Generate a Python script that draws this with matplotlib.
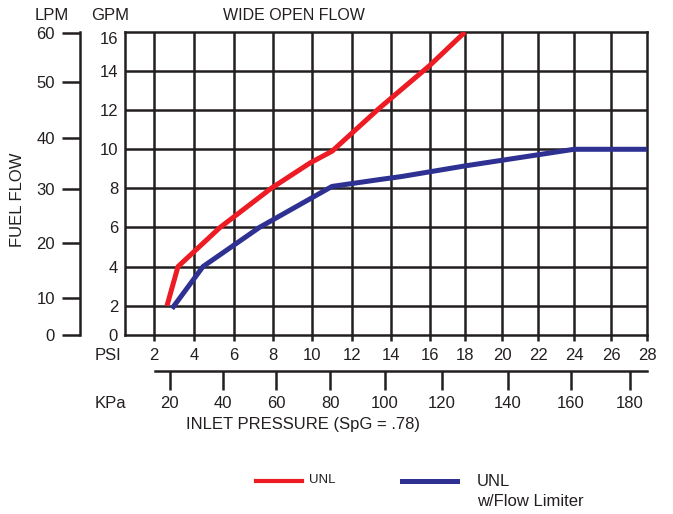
import numpy as np
import matplotlib.pyplot as plt
from matplotlib.lines import Line2D

plt.rcParams["font.family"] = ["Liberation Sans", "DejaVu Sans"]

# --- data (PSI vs GPM) ---
unl_psi = [2.65, 3.2, 5.3, 7.9, 9.9, 11.0, 13.4, 16.0, 18.0]
unl_gpm = [2.0, 4.0, 6.0, 8.0, 9.3, 9.9, 12.1, 14.3, 16.0]

lim_psi = [2.9, 4.45, 7.3, 11.0, 13.4, 14.5, 18.0, 24.0, 28.0]
lim_gpm = [1.85, 4.0, 6.0, 8.1, 8.45, 8.6, 9.15, 10.0, 10.0]

psi_ticks = [2, 4, 6, 8, 10, 12, 14, 16, 18, 20, 22, 24, 26, 28]
gpm_ticks = [0, 2, 4, 6, 8, 10, 12, 14, 16]
lpm_labels = [0, 10, 20, 30, 40, 50, 60]
lpm_pos = [0.5, 2.4, 5.2, 7.95, 10.56, 13.46, 15.95]   # in GPM units, as drawn
kpa_labels = [20, 40, 60, 80, 100, 120, 140, 160, 180]
kpa_pos = [2.85, 5.65, 8.46, 11.3, 14.2, 17.2, 20.67, 24.0, 27.1]  # in PSI units, as drawn

INK = "#231f20"
RED = "#ed1c24"
BLUE = "#2e3192"
W, H = 673, 514
X0, Y0 = 0.5, 0.5  # axis floor (grid starts half a unit in)

# the printed PSI grid is not quite even: cells get narrower to the right
scale_psi = [X0] + psi_ticks
scale_px = [125, 154, 194, 234, 273, 312, 352, 391, 430, 465, 502, 538, 574, 611, 647]


def psi_fwd(v):
    return np.interp(v, scale_psi, scale_px)


def psi_inv(v):
    return np.interp(v, scale_px, scale_psi)


fig = plt.figure(figsize=(W / 100, H / 100), dpi=100)
ax = fig.add_axes([125 / W, 1 - 335 / H, 522 / W, 303 / H])
ax.set_xscale("function", functions=(psi_fwd, psi_inv))
ax.set_xlim(X0, 28)
ax.set_ylim(Y0, 16)

# grid
for x in psi_ticks[:-1]:
    ax.axvline(x, color=INK, lw=1.8, zorder=1)
for y in gpm_ticks[1:-1]:
    ax.axhline(y, color=INK, lw=1.8, zorder=1)
for sp in ax.spines.values():
    sp.set_linewidth(1.8)
    sp.set_color(INK)

# curves
ax.plot(unl_psi, unl_gpm, color=RED, lw=3.6, solid_capstyle="butt", zorder=3)
ax.plot(lim_psi, lim_gpm, color=BLUE, lw=3.6, solid_capstyle="butt", zorder=3)

# PSI axis
ax.set_xticks(psi_ticks)
ax.set_xticklabels([str(v) for v in psi_ticks])
ax.xaxis.set_minor_locator(plt.NullLocator())
ax.tick_params(axis="x", length=4, width=1.8, color=INK, pad=5,
               labelsize=12, labelcolor=INK)

# GPM axis
ax.set_yticks([max(v, Y0) for v in gpm_ticks])
ax.set_yticklabels([str(v) for v in gpm_ticks])
ax.tick_params(axis="y", length=0, pad=5, labelsize=12, labelcolor=INK)
ax.get_yticklabels()[-1].set_va("top")

# LPM axis
lpm = ax.secondary_yaxis((80 - 125) / 522)
lpm.set_yticks(lpm_pos)
lpm.set_yticklabels([str(v) for v in lpm_labels])
lpm.tick_params(length=13, width=1.8, color=INK, pad=5, labelsize=12,
                labelcolor=INK)
lpm.spines["left"].set_linewidth(1.8)
lpm.spines["left"].set_color(INK)

# KPa axis
kpa = ax.secondary_xaxis((335 - 371) / 303)
kpa.set_xticks(kpa_pos)
kpa.set_xticklabels([str(v) for v in kpa_labels])
kpa.xaxis.set_minor_locator(plt.NullLocator())
kpa.tick_params(length=14, width=1.8, color=INK, pad=4, labelsize=12,
                labelcolor=INK)
kpa.spines["bottom"].set_linewidth(1.8)
kpa.spines["bottom"].set_color(INK)
kpa.spines["bottom"].set_bounds(2.1, 28.0)


def ftext(x, y, s, **kw):
    kw.setdefault("fontsize", 12)
    kw.setdefault("color", INK)
    kw.setdefault("ha", "center")
    kw.setdefault("va", "center")
    fig.text(x / W, 1 - y / H, s, **kw)


ftext(52, 16, "LPM")
ftext(110, 16, "GPM")
ftext(294, 16, "WIDE OPEN FLOW", fontsize=11.5)
ftext(18, 200, "FUEL FLOW", rotation=90)
ftext(108, 355, "PSI")
ftext(110, 403, "KPa")
ftext(303, 425, "INLET PRESSURE (SpG = .78)")

# legend
fig.add_artist(Line2D([256 / W, 302 / W], [1 - 481 / H] * 2, color=RED, lw=3))
ftext(309, 480, "UNL", fontsize=9.5, ha="left")
fig.add_artist(Line2D([402 / W, 457 / W], [1 - 481 / H] * 2, color=BLUE, lw=3.6))
ftext(477, 481, "UNL", ha="left")
ftext(477, 502, "w/Flow Limiter", ha="left")

fig.savefig("out.png", dpi=100, facecolor="white")
